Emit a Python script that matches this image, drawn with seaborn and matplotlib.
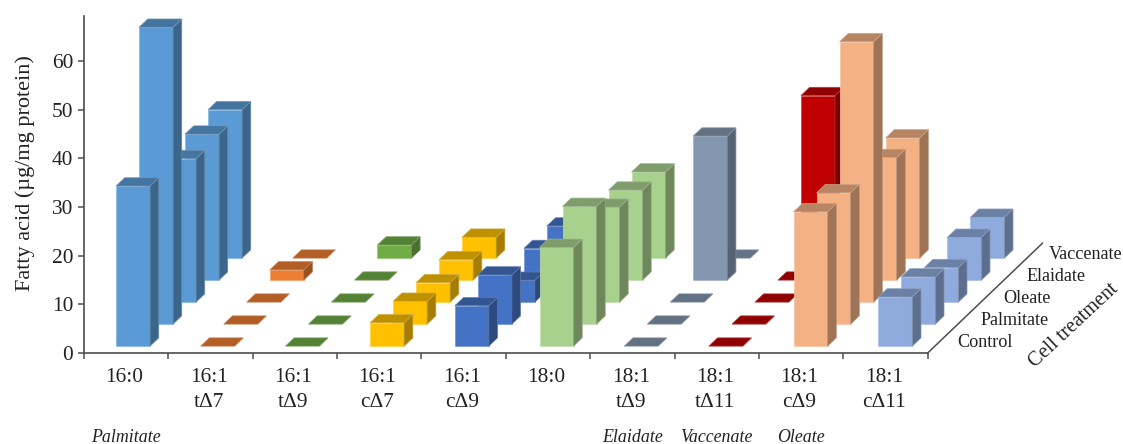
#!/usr/bin/env python3
"""Fatty acid content per cell treatment, drawn as an oblique 3D column chart."""
import numpy as np
import pandas as pd
import matplotlib
matplotlib.use("Agg")
import matplotlib.pyplot as plt
import seaborn as sns

fatty_acids = ["16:0", "16:1\ntΔ7", "16:1\ntΔ9", "16:1\ncΔ7", "16:1\ncΔ9",
               "18:0", "18:1\ntΔ9", "18:1\ntΔ11", "18:1\ncΔ9", "18:1\ncΔ11"]
treatments = ["Control", "Palmitate", "Oleate", "Elaidate", "Vaccenate"]

control = [32.9, 0, 0, 4.8, 8.3, 20.3, 0, 0, 27.6, 10.1]
palmitate = [61.0, 0, 0, 4.7, 10.1, 24.2, 0, 0, 27.0, 9.7]
oleate = [29.5, 0, 0, 4.0, 4.5, 19.5, 0, 0, 53.5, 7.1]
elaidate = [30.0, 2.1, 0, 4.2, 6.5, 18.5, 29.6, 0, 25.2, 8.8]
vaccenate = [30.5, 0, 2.7, 4.3, 6.6, 17.7, 0, 33.4, 24.7, 8.4]

bar_colors = ["#5B9BD5", "#ED7D31", "#70AD47", "#FFC000", "#4472C4",
              "#A9D18E", "#8497B0", "#C00000", "#F4B183", "#8FAADC"]
yticks = [0, 10, 20, 30, 40, 50, 60]
# italic notes under the fatty acid that each treatment supplies
notes = {0: "Palmitate", 6: "Elaidate", 7: "Vaccenate", 8: "Oleate"}

# one row of floor depth, in data units of the x and y axes
DEPTH_X = 23 / 84.4
DEPTH_Y = 22 / 4.867
BAR_W = 0.403
BAR_D = 0.377
CAT_STEP = 1.0035

def project(x, d, z):
    return x + d * DEPTH_X, z + d * DEPTH_Y

def shade(color, f):
    return tuple(c * f for c in matplotlib.colors.to_rgb(color))

def lighten(color, f):
    return tuple(c + (1 - c) * f for c in matplotlib.colors.to_rgb(color))

def draw_bar(ax, col, row, value, color, zorder):
    x0 = 0.5 + col * CAT_STEP - BAR_W / 2
    x1 = x0 + BAR_W
    d0 = row + 0.5 - BAR_D / 2
    d1 = d0 + BAR_D
    front = [project(x0, d0, 0), project(x1, d0, 0), project(x1, d0, value), project(x0, d0, value)]
    side = [project(x1, d0, 0), project(x1, d1, 0), project(x1, d1, value), project(x1, d0, value)]
    top = [project(x0, d0, value), project(x1, d0, value), project(x1, d1, value), project(x0, d1, value)]
    faces = [(top, shade(color, 0.75))]
    if value > 0:
        faces = [(front, color), (side, shade(color, 0.65))] + faces
    for pts, c in faces:
        xs, ys = zip(*pts)
        ax.fill(xs, ys, facecolor=c, edgecolor=lighten(c, 0.25), linewidth=0.5,
                clip_on=False, zorder=zorder)

def main():
    sns.set_theme(style="ticks")
    plt.rcParams["font.family"] = ["Liberation Serif", "DejaVu Serif"]

    df = pd.DataFrame(np.array([control, palmitate, oleate, elaidate, vaccenate]),
                      index=treatments, columns=range(len(fatty_acids)))
    palette = sns.color_palette(bar_colors)

    fig = plt.figure(figsize=(11.23, 4.44), dpi=100, facecolor="white")
    ax = fig.add_axes([83.7 / 1123, (444 - 353) / 444, 844 / 1123, 337 / 444])
    ax.set_xlim(0, 10)
    ax.set_ylim(0, 337 / 4.867)
    ax.patch.set_alpha(0)
    sns.despine(ax=ax)

    # back row first so the nearer columns cover it
    zorder = 3
    for row in range(len(treatments) - 1, -1, -1):
        for col in df.columns:
            draw_bar(ax, col, row, df.iloc[row, col], palette[col], zorder)
            zorder += 1

    axis_color = "#4d4d4d"
    for s in ("left", "bottom"):
        ax.spines[s].set_color(axis_color)
        ax.spines[s].set_linewidth(1.2)
    ax.set_yticks(yticks)
    ax.set_xticks(np.arange(0, 11))
    ax.set_xticklabels([])
    ax.set_xticks(np.arange(10) + 0.48, minor=True)
    ax.set_xticklabels(fatty_acids, minor=True, fontsize=15.4, color="#222222", linespacing=1.42)
    ax.tick_params(axis="x", which="major", length=4.5, width=1.1, color=axis_color)
    ax.tick_params(axis="x", which="minor", length=0, pad=11)
    ax.tick_params(axis="y", length=4.5, width=1.1, color=axis_color, labelsize=15.4,
                   labelcolor="#222222", pad=3)
    ax.set_ylabel("Fatty acid (µg/mg protein)", fontsize=16, color="#222222")
    ax.yaxis.set_label_coords(-0.058, 0.533)

    # depth axis and treatment names along it
    x_end, y_end = project(10, 5, 0)
    ax.plot([10, x_end], [0, y_end], color=axis_color, linewidth=1.1, clip_on=False, zorder=2)
    for row, name in enumerate(treatments):
        x, y = project(10, row + 0.5, 0)
        ax.annotate(name, (x, y), xytext=(13, 0), textcoords="offset points", fontsize=13.1,
                    color="#222222", ha="left", va="center", annotation_clip=False)
    ax.annotate("Cell treatment", (10, 0), xytext=(105.5, 19.5), textcoords="offset points",
                fontsize=14.5, color="#222222", rotation=43, ha="center", va="center",
                rotation_mode="anchor", annotation_clip=False)

    for col, name in notes.items():
        ax.annotate(name, (col + 0.5, 0), xytext=(0, -60.5), textcoords="offset points",
                    fontsize=12.9, style="italic", color="#222222", ha="center", va="center",
                    annotation_clip=False)

    fig.savefig("out.png", dpi=100, facecolor="white")

if __name__ == "__main__":
    main()
